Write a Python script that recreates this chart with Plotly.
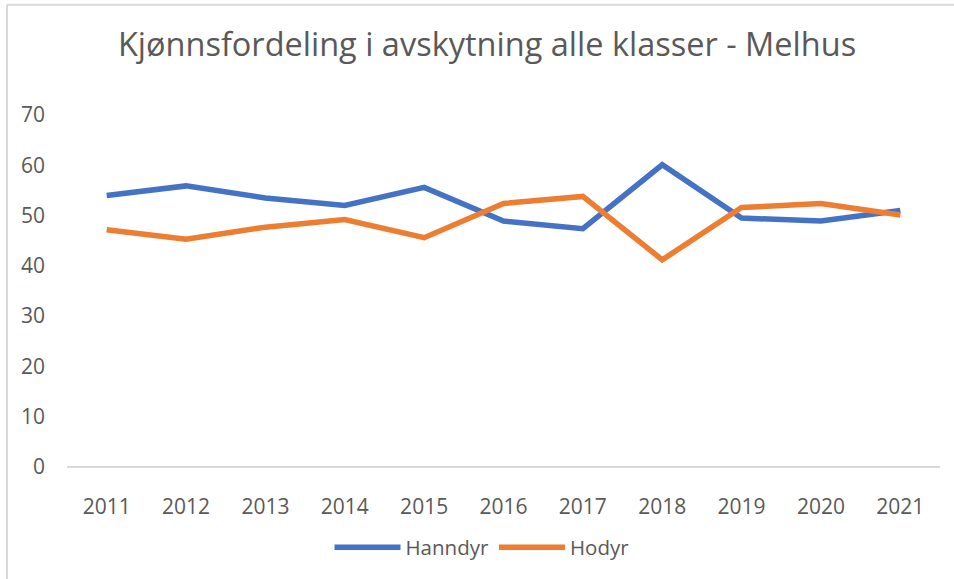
import plotly.graph_objects as go

years = ["2011", "2012", "2013", "2014", "2015", "2016", "2017", "2018", "2019", "2020", "2021"]
hanndyr = [54.0, 55.9, 53.5, 52.0, 55.6, 48.9, 47.4, 60.1, 49.5, 48.9, 51.0]
hodyr = [47.2, 45.3, 47.7, 49.2, 45.6, 52.4, 53.8, 41.2, 51.6, 52.4, 50.1]
y_ticks = [0, 10, 20, 30, 40, 50, 60, 70]

FONT = "Open Sans"
GRAY = "#595959"

fig = go.Figure()
fig.add_trace(go.Scatter(x=years, y=hanndyr, name="Hanndyr", mode="lines",
                         line=dict(color="#4472C4", width=5.5)))
fig.add_trace(go.Scatter(x=years, y=hodyr, name="Hodyr", mode="lines",
                         line=dict(color="#ED7D31", width=5.5)))

W, H = 954, 579
ml, mr, mt, mb = 67, 14, 115, 110
pw = W - ml - mr
ph = H - mt - mb

def px_x(x):
    return (x - ml) / pw

def px_y(y):
    return (H - mb - y) / ph

fig.update_layout(
    width=W, height=H,
    margin=dict(l=ml, r=mr, t=mt, b=mb),
    paper_bgcolor="white", plot_bgcolor="white",
    font=dict(family=FONT, color=GRAY, size=20),
    title=dict(text="Kjønnsfordeling i avskytning alle klasser - Melhus",
               xref="container", x=487 / W, xanchor="center",
               yref="container", y=1 - 45 / H, yanchor="middle",
               font=dict(family=FONT, size=32.5, color=GRAY)),
    xaxis=dict(type="category", range=[-0.5, 10.5], showgrid=False, automargin=False,
               showline=False, zeroline=False, ticks="",
               ticklabelstandoff=25, tickfont=dict(size=21, color=GRAY)),
    yaxis=dict(range=[0, 70], tickvals=y_ticks, showgrid=False, automargin=False,
               zeroline=True, zerolinecolor="#D9D9D9", zerolinewidth=1.5,
               showline=False, ticks="", ticklabelstandoff=21,
               tickfont=dict(size=21, color=GRAY)),
    legend=dict(orientation="h", x=px_x(482), xanchor="center", y=px_y(550),
                yanchor="middle", itemwidth=66, font=dict(size=20.5, color=GRAY),
                tracegroupgap=0),
    showlegend=True,
    shapes=[
        dict(type="line", xref="paper", yref="paper",
             x0=px_x(7), x1=px_x(7), y0=px_y(4), y1=px_y(600),
             line=dict(color="#D9D9D9", width=2)),
        dict(type="line", xref="paper", yref="paper",
             x0=px_x(7), x1=px_x(960), y0=px_y(4), y1=px_y(4),
             line=dict(color="#D9D9D9", width=2)),
    ],
)

fig.write_html("out.html", config={"displayModeBar": False},
               post_script="document.body.style.margin='0';document.body.style.overflow='hidden';")
